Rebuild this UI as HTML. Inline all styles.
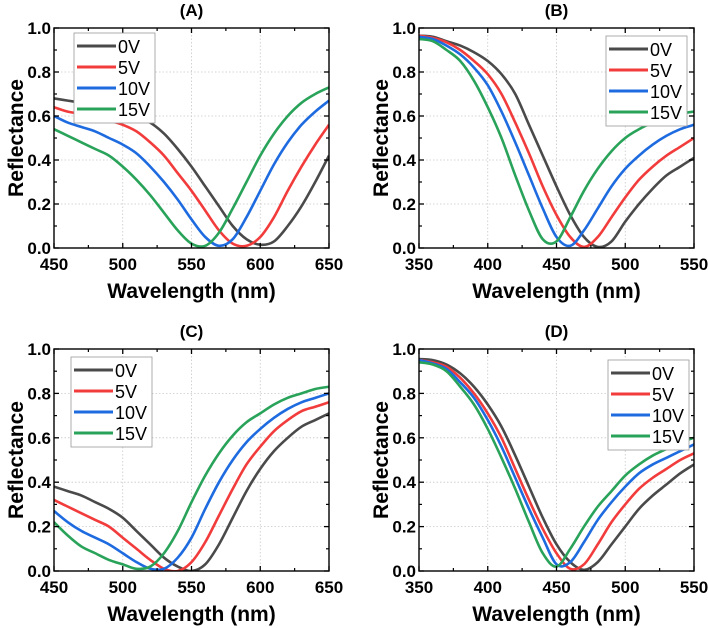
<!DOCTYPE html>
<html><head><meta charset="utf-8">
<style>
html,body{margin:0;padding:0;background:#fff;}
svg{display:block;font-family:"Liberation Sans",Arial,sans-serif;}
</style></head>
<body>
<svg id="fig" width="708" height="628" viewBox="0 0 708 628" xmlns="http://www.w3.org/2000/svg"></svg>
<script>
const seriesLabels = ["0V","5V","10V","15V"];
const seriesColors = ["#4a4a4a","#f23c3c","#1e6be0","#2aa35a"];
const yTicks = [0.0,0.2,0.4,0.6,0.8,1.0];
const xTicksA = [450,500,550,600,650];
const xTicksB = [350,400,450,500,550];
const wlA = [450,460,470,480,490,500,510,520,530,540,550,560,570,580,590,600,610,620,630,640,650];
const wlB = [350,360,370,380,390,400,410,420,430,440,450,460,470,480,490,500,510,520,530,540,550];
const a0 = [.68,.67,.66,.65,.64,.62,.60,.57,.52,.45,.37,.28,.19,.10,.04,.015,.03,.10,.19,.30,.42];
const a5 = [.64,.62,.61,.60,.58,.56,.53,.48,.42,.34,.26,.17,.08,.02,.01,.05,.14,.26,.37,.47,.56];
const a10 = [.60,.57,.55,.53,.50,.47,.43,.37,.30,.22,.13,.05,.01,.04,.14,.26,.38,.48,.56,.62,.67];
const a15 = [.54,.51,.48,.45,.42,.37,.31,.24,.16,.08,.02,.01,.07,.18,.30,.42,.52,.60,.66,.70,.73];
const b0 = [.965,.96,.94,.92,.89,.85,.79,.70,.56,.42,.28,.15,.05,.005,.03,.12,.20,.27,.33,.37,.41];
const b5 = [.965,.955,.935,.90,.85,.79,.70,.57,.43,.28,.15,.05,.005,.05,.14,.23,.31,.37,.42,.46,.50];
const b10 = [.96,.95,.92,.88,.82,.74,.62,.48,.33,.18,.05,.01,.08,.18,.28,.36,.42,.47,.51,.54,.56];
const b15 = [.95,.94,.90,.85,.76,.64,.50,.33,.17,.04,.03,.14,.26,.36,.44,.50,.54,.57,.59,.61,.62];
const c0 = [.38,.36,.34,.31,.28,.24,.18,.12,.06,.02,.0,.03,.12,.24,.36,.46,.54,.60,.65,.68,.71];
const c5 = [.32,.29,.26,.23,.20,.15,.10,.05,.01,.0,.04,.13,.25,.37,.48,.56,.63,.68,.72,.74,.76];
const c10 = [.27,.22,.18,.15,.12,.08,.04,.01,.01,.06,.15,.28,.40,.50,.58,.64,.69,.73,.76,.78,.80];
const c15 = [.22,.16,.11,.08,.05,.03,.01,.02,.08,.18,.31,.43,.53,.61,.67,.71,.75,.78,.80,.82,.83];
const d0 = [.955,.95,.93,.89,.83,.75,.65,.52,.38,.24,.12,.04,.005,.04,.12,.20,.28,.34,.39,.44,.48];
const d5 = [.95,.94,.92,.87,.80,.71,.60,.46,.32,.19,.08,.01,.03,.12,.22,.30,.37,.42,.46,.50,.53];
const d10 = [.95,.935,.91,.85,.78,.68,.56,.42,.28,.15,.03,.04,.13,.23,.31,.38,.44,.48,.51,.54,.57];
const d15 = [.94,.93,.90,.83,.75,.64,.51,.37,.22,.08,.02,.10,.20,.29,.36,.43,.48,.52,.55,.58,.60];

const NS="http://www.w3.org/2000/svg";
const svg=document.getElementById('fig');
function mk(tag,attrs,parent){const e=document.createElementNS(NS,tag);for(const k in attrs)e.setAttribute(k,attrs[k]);(parent||svg).appendChild(e);return e;}

const panels=[
 {id:'a',title:'(A)',x0:54,x1:329,y0:28,y1:248,wl:wlA,xt:xTicksA,s:[a0,a5,a10,a15],leg:{x:74,y:33}},
 {id:'b',title:'(B)',x0:419,x1:694,y0:28,y1:248,wl:wlB,xt:xTicksB,s:[b0,b5,b10,b15],leg:{x:606,y:36}},
 {id:'c',title:'(C)',x0:54,x1:329,y0:349,y1:571,wl:wlA,xt:xTicksA,s:[c0,c5,c10,c15],leg:{x:71,y:357}},
 {id:'d',title:'(D)',x0:419,x1:694,y0:349,y1:571,wl:wlB,xt:xTicksB,s:[d0,d5,d10,d15],leg:{x:608,y:360}}
];

panels.forEach(p=>{
 const g=mk('g',{});
 
 
 const xmin=p.xt[0],xmax=p.xt[p.xt.length-1];
 const X=v=>p.x0+(v-xmin)/(xmax-xmin)*(p.x1-p.x0);
 const Y=v=>p.y1-v*(p.y1-p.y0);
 p.xt.forEach(t=>{const l=mk('line',{x1:X(t),x2:X(t),y1:p.y0,y2:p.y1,stroke:'#c8c8c8','stroke-width':0.8,'stroke-dasharray':'1.5,2'},g);
  });
 yTicks.forEach(t=>{const l=mk('line',{x1:p.x0,x2:p.x1,y1:Y(t),y2:Y(t),stroke:'#c8c8c8','stroke-width':0.8,'stroke-dasharray':'1.5,2'},g);
  });
 const cp=mk('clipPath',{id:'clip-'+p.id},g);mk('rect',{x:p.x0,y:p.y0-3,width:p.x1-p.x0,height:p.y1-p.y0+3},cp);
 p.s.forEach((vals,i)=>{
  const pts=p.wl.map((w,k)=>[X(w),Y(vals[k])]);
  let d='M'+pts[0][0]+','+pts[0][1];
  for(let k=0;k<pts.length-1;k++){
   const p0=pts[Math.max(0,k-1)],p1=pts[k],p2=pts[k+1],p3=pts[Math.min(pts.length-1,k+2)];
   const c1=[p1[0]+(p2[0]-p0[0])/6,p1[1]+(p2[1]-p0[1])/6];
   const c2=[p2[0]-(p3[0]-p1[0])/6,p2[1]-(p3[1]-p1[1])/6];
   d+=' C'+c1[0]+','+c1[1]+' '+c2[0]+','+c2[1]+' '+p2[0]+','+p2[1];
  }
  const path=mk('path',{d:d,fill:'none',stroke:seriesColors[i],'stroke-width':2.6,'clip-path':'url(#clip-'+p.id+')'},g);
  
  
 });
 const fr=mk('rect',{x:p.x0,y:p.y0,width:p.x1-p.x0,height:p.y1-p.y0,fill:'none',stroke:'#000','stroke-width':1.4},g);
 
 p.xt.forEach((t,i)=>{
  mk('line',{x1:X(t),x2:X(t),y1:p.y1,y2:p.y1-5,stroke:'#000','stroke-width':1.3},g);
  mk('line',{x1:X(t),x2:X(t),y1:p.y0,y2:p.y0+5,stroke:'#000','stroke-width':1.3},g);
  if(i<p.xt.length-1){const m=X(t+(p.xt[1]-p.xt[0])/2);mk('line',{x1:m,x2:m,y1:p.y1,y2:p.y1-3,stroke:'#000','stroke-width':1.2},g);mk('line',{x1:m,x2:m,y1:p.y0,y2:p.y0+3,stroke:'#000','stroke-width':1.2},g);}
  const tx=mk('text',{x:X(t),y:p.y1+22,'text-anchor':'middle','font-size':17,'font-weight':'bold'},g);tx.textContent=t;
  
 });
 yTicks.forEach((t,i)=>{
  mk('line',{x1:p.x0,x2:p.x0+5,y1:Y(t),y2:Y(t),stroke:'#000','stroke-width':1.3},g);
  mk('line',{x1:p.x1,x2:p.x1-5,y1:Y(t),y2:Y(t),stroke:'#000','stroke-width':1.3},g);
  if(i<yTicks.length-1){const m=Y(t+0.1);mk('line',{x1:p.x0,x2:p.x0+3,y1:m,y2:m,stroke:'#000','stroke-width':1.2},g);mk('line',{x1:p.x1,x2:p.x1-3,y1:m,y2:m,stroke:'#000','stroke-width':1.2},g);}
  const tx=mk('text',{x:p.x0-3,y:Y(t)+6,'text-anchor':'end','font-size':17,'font-weight':'bold'},g);tx.textContent=t.toFixed(1);
  
 });
 const xt=mk('text',{x:(p.x0+p.x1)/2,y:p.y1+50,'text-anchor':'middle','font-size':21,'font-weight':'bold'},g);xt.textContent='Wavelength (nm)';
 
 const yc=(p.y0+p.y1)/2, yx=p.x0-31;
 const yt=mk('text',{x:yx,y:yc,'text-anchor':'middle','font-size':21,'font-weight':'bold',transform:'rotate(-90 '+yx+' '+yc+')'},g);yt.textContent='Reflectance';
 
 const tt=mk('text',{x:(p.x0+p.x1)/2,y:p.y0-12,'text-anchor':'middle','font-size':17,'font-weight':'bold'},g);tt.textContent=p.title;
 
 const lg=mk('g',{},g);
 
 mk('rect',{x:p.leg.x,y:p.leg.y,width:81,height:90,fill:'#fff',stroke:'#999','stroke-width':0.8},lg);
 seriesLabels.forEach((lab,i)=>{
  const yy=p.leg.y+13+i*21;
  const ln=mk('line',{x1:p.leg.x+3,x2:p.leg.x+42,y1:yy,y2:yy,stroke:seriesColors[i],'stroke-width':3},lg);
  
  const t=mk('text',{x:p.leg.x+44,y:yy+7,'font-size':18},lg);t.textContent=lab;
  
 });
});
</script>
</body></html>
